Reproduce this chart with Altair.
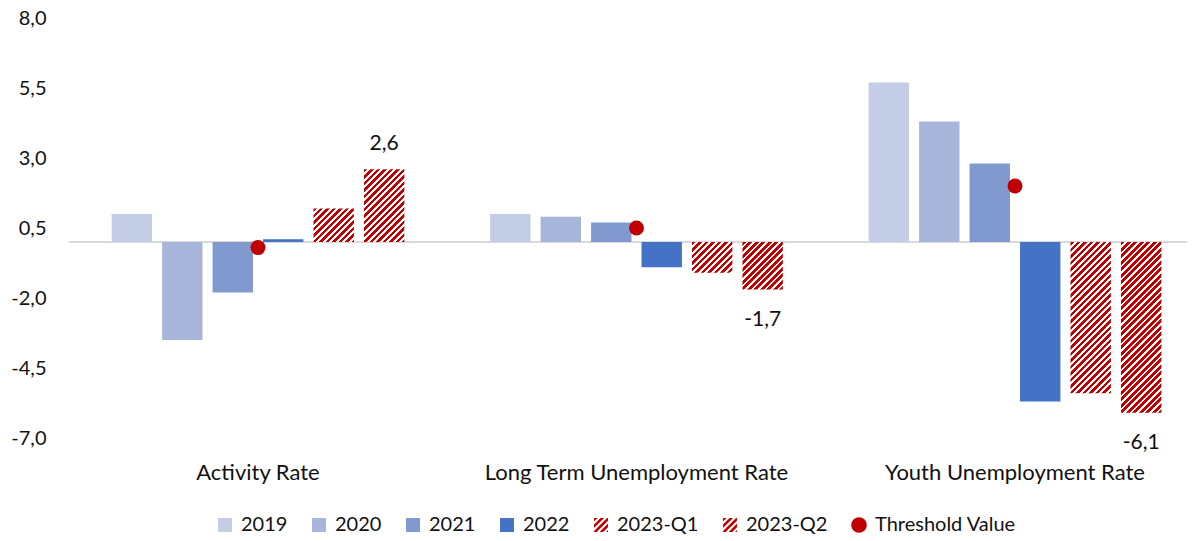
import math
import altair as alt
import pandas as pd

# ---------------- data ----------------
categories = ["Activity Rate", "Long Term Unemployment Rate", "Youth Unemployment Rate"]
series_names = ["2019", "2020", "2021", "2022", "2023-Q1", "2023-Q2"]
values_2019 = [1.0, 1.0, 5.7]
values_2020 = [-3.5, 0.9, 4.3]
values_2021 = [-1.8, 0.7, 2.8]
values_2022 = [0.1, -0.9, -5.7]
values_2023_q1 = [1.2, -1.1, -5.4]
values_2023_q2 = [2.6, -1.7, -6.1]
threshold_name = "Threshold Value"
threshold_values = [-0.2, 0.5, 2.0]
y_ticks = [-7.0, -4.5, -2.0, 0.5, 3.0, 5.5, 8.0]

all_values = [values_2019, values_2020, values_2021, values_2022, values_2023_q1, values_2023_q2]
rows = []
for s, vals in zip(series_names, all_values):
    for c, v in zip(categories, vals):
        rows.append({"category": c, "series": s, "value": v})
bars_df = pd.DataFrame(rows)
thr_df = pd.DataFrame({"category": categories, "value": threshold_values,
                       "series": [threshold_name] * len(categories)})
zero_df = pd.DataFrame({"value": [0.0]})

solid_series = series_names[:4]
hatched_series = series_names[4:]

# ---------------- style / layout ----------------
FONT = "Lato"
TXT = "#111111"
RED = "#c00000"
solid_colors = ["#c4cde6", "#a7b5db", "#8099cf", "#4472c4"]
W, H = 1118, 420
Y_MIN, Y_MAX = -7.0, 8.0
X_STEP = 378.5
X_PAD_IN = 0.2
X_PAD_OUT = (W / X_STEP - (3 - X_PAD_IN)) / 2
X_ALIGN = 37.6 / (W - X_STEP * (3 - X_PAD_IN))
OFF_PAD_IN, OFF_PAD_OUT = 0.2, 0.1
BAR_W = X_STEP * (1 - X_PAD_IN) / 6 * (1 - OFF_PAD_IN)
PX_PER_UNIT = H / (Y_MAX - Y_MIN)
STRIPE_PERIOD = 6.5
RED_FRAC = 0.55


def hatch_gradient(w, h):
    k = (w + h) / (w * w + h * h)
    x2, y2 = w * k, h * k
    L = w + h
    stops = []
    n = int(math.ceil(L / STRIPE_PERIOD))
    for j in range(n):
        a = min(j * STRIPE_PERIOD / L, 1.0)
        b = min((j + RED_FRAC) * STRIPE_PERIOD / L, 1.0)
        c = min((j + 1) * STRIPE_PERIOD / L, 1.0)
        stops += [(a, RED), (b, RED), (b, "#ffffff"), (c, "#ffffff")]
    return alt.LinearGradient(
        gradient="linear",
        x1=0, y1=0, x2=round(x2, 5), y2=round(y2, 5),
        stops=[alt.GradientStop(offset=round(o, 5), color=col) for o, col in stops],
    )


def clip_halfplane(poly, a, b, c):
    out = []
    n = len(poly)
    for i in range(n):
        P, Q = poly[i], poly[(i + 1) % n]
        fp = a * P[0] + b * P[1] - c
        fq = a * Q[0] + b * Q[1] - c
        if fp <= 0:
            out.append(P)
        if (fp < 0 < fq) or (fq < 0 < fp):
            t = fp / (fp - fq)
            out.append((P[0] + t * (Q[0] - P[0]), P[1] + t * (Q[1] - P[1])))
    return out


R = 0.89
square_path = f"M{-R},{-R}H{R}V{R}H{-R}Z"


def hatch_symbol_path():
    sq = [(-R, -R), (R, -R), (R, R), (-R, R)]
    period = STRIPE_PERIOD / (math.sqrt(245) / 2)
    parts = []
    s = -2 * R
    while s < 2 * R:
        poly = clip_halfplane(sq, 1, 1, s + RED_FRAC * period)
        poly = clip_halfplane(poly, -1, -1, -s)
        if len(poly) >= 3:
            parts.append("M" + "L".join(f"{x:.3f},{y:.3f}" for x, y in poly) + "Z")
        s += period
    return "".join(parts)


legend_domain = series_names + [threshold_name]
color_scale = alt.Scale(domain=legend_domain, range=solid_colors + [RED, RED, RED])
shape_scale = alt.Scale(domain=legend_domain,
                        range=[square_path] * 4 + [hatch_symbol_path()] * 2 + ["circle"])

x_scale = alt.Scale(domain=categories, paddingInner=X_PAD_IN, paddingOuter=X_PAD_OUT, align=X_ALIGN)
off_scale = alt.Scale(domain=series_names, paddingInner=OFF_PAD_IN, paddingOuter=OFF_PAD_OUT)
y_scale = alt.Scale(domain=[Y_MIN, Y_MAX], nice=False)

x_enc = alt.X("category:N", scale=x_scale, sort=categories,
              axis=alt.Axis(title=None, ticks=False, domain=False, labelAngle=0, labelPadding=24,
                            labelFont=FONT, labelFontSize=22, labelColor=TXT, labelLimit=0))
y_enc = alt.Y("value:Q", scale=y_scale, stack=None,
              axis=alt.Axis(title=None, values=y_ticks, ticks=False, domain=False, grid=False,
                            labelPadding=23, labelFont=FONT, labelFontSize=20, labelColor=TXT,
                            labelExpr="replace(replace(format(datum.value, '.1f'), '.', ','), '\u2212', '-')"))
off_enc = alt.XOffset("series:N", scale=off_scale)

legend = alt.Legend(title=None, orient="none", legendX=146, legendY=497, direction="horizontal",
                    columns=7, symbolSize=245, symbolStrokeWidth=0, labelFont=FONT,
                    labelFontSize=20, labelColor=TXT, labelOffset=6, columnPadding=21,
                    padding=0, labelLimit=0)

zero_rule = alt.Chart(zero_df).mark_rule(color="#d9d9d9", strokeWidth=2).encode(
    y=alt.Y("value:Q", scale=y_scale))

solid_bars = alt.Chart(bars_df).transform_filter(
    alt.FieldOneOfPredicate(field="series", oneOf=solid_series)
).mark_bar().encode(
    x=x_enc, xOffset=off_enc, y=y_enc,
    color=alt.Color("series:N", scale=color_scale, legend=legend),
)

hatched_layers = []
for s_name, vals in zip(hatched_series, [values_2023_q1, values_2023_q2]):
    for c, v in zip(categories, vals):
        grad = hatch_gradient(BAR_W, abs(v) * PX_PER_UNIT)
        layer = alt.Chart(bars_df).transform_filter(
            (alt.datum.series == s_name) & (alt.datum.category == c)
        ).mark_bar(fill=grad).encode(x=x_enc, xOffset=off_enc, y=y_enc)
        hatched_layers.append(layer)

points = alt.Chart(thr_df).mark_point(filled=True, size=225, opacity=1).encode(
    x=x_enc, y=y_enc,
    color=alt.Color("series:N", scale=color_scale, legend=legend),
    shape=alt.Shape("series:N", scale=shape_scale, legend=legend),
)

label_base = alt.Chart(bars_df).transform_filter(
    alt.datum.series == "2023-Q2"
).transform_calculate(
    label="replace(replace(format(datum.value, '.1f'), '.', ','), '\u2212', '-')"
)
labels_pos = label_base.transform_filter(alt.datum.value >= 0).mark_text(
    font=FONT, fontSize=21, color=TXT, baseline="middle", dy=-25
).encode(x=x_enc, xOffset=off_enc, y=y_enc, text="label:N")
labels_neg = label_base.transform_filter(alt.datum.value < 0).mark_text(
    font=FONT, fontSize=21, color=TXT, baseline="middle", dy=30
).encode(x=x_enc, xOffset=off_enc, y=y_enc, text="label:N")

chart = alt.layer(
    zero_rule, solid_bars, *hatched_layers, points, labels_pos, labels_neg
).properties(
    width=W, height=H,
    padding={"left": 61, "top": 10, "right": 0, "bottom": 96},
    autosize=alt.AutoSizeParams(type="none"),
).configure_view(stroke=None).configure_axis(grid=False)

chart.save("out.html", embed_options={"renderer": "svg", "actions": False})
